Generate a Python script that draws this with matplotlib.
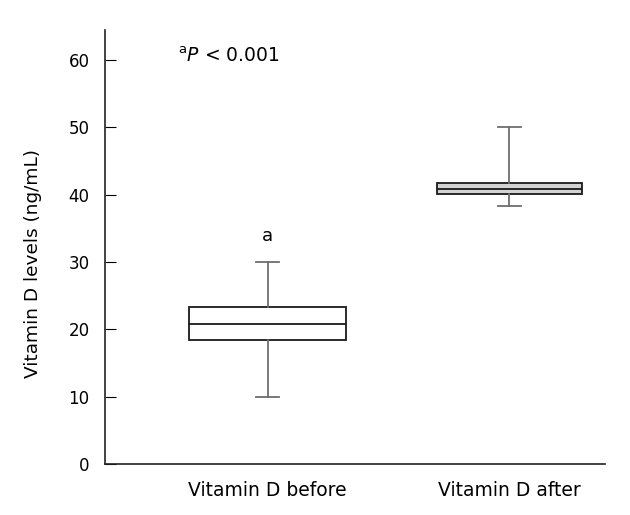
import matplotlib
matplotlib.use("Agg")
import matplotlib.pyplot as plt

# Box summary values (ng/mL)
groups = ["Vitamin D before", "Vitamin D after"]
q1 = [18.4, 40.1]
med = [20.85, 40.9]
q3 = [23.4, 41.7]
whislo = [10.0, 38.4]
whishi = [30.0, 50.1]
box_fill = ["white", "#d3d3d3"]
yticks = [0, 10, 20, 30, 40, 50, 60]

plt.rcParams['font.family'] = ['DejaVu Sans']

fig = plt.figure(figsize=(6.3, 5.15), dpi=100)
ax = fig.add_axes([0.1667, 0.099, 0.7937, 0.843])

stats = []
for i, g in enumerate(groups):
    stats.append(dict(label=g, q1=q1[i], med=med[i], q3=q3[i],
                      whislo=whislo[i], whishi=whishi[i], fliers=[]))

bp = ax.bxp(stats, positions=[1, 2], widths=[0.65, 0.6], patch_artist=True,
            showfliers=False,
            boxprops=dict(edgecolor="#1a1a1a", linewidth=1.3),
            medianprops=dict(color="#1a1a1a", linewidth=1.3),
            whiskerprops=dict(color="#6e6e6e", linewidth=1.3),
            capprops=dict(color="#6e6e6e", linewidth=1.3),
            capwidths=0.094)
for patch, c in zip(bp["boxes"], box_fill):
    patch.set_facecolor(c)

ax.set_xlim(0.327, 2.397)
ax.set_ylim(0, 64.5)
ax.set_yticks(yticks)
ax.set_xticks([1, 2])
ax.set_xticklabels(groups, fontsize=13.5)
ax.tick_params(axis="x", length=0, pad=12)
ax.tick_params(axis="y", direction="in", length=8, labelsize=12, pad=11)
ax.spines["top"].set_visible(False)
ax.spines["right"].set_visible(False)
for s in ("left", "bottom"):
    ax.spines[s].set_color("#222222")
    ax.spines[s].set_linewidth(1.2)

ax.set_ylabel("Vitamin D levels (ng/mL)", fontsize=13.3)
ax.yaxis.set_label_coords(-0.127, 0.462)

ax.text(1, 33.9, "a", ha="center", va="center", fontsize=13)
ax.text(0.629, 60.6, r"$^{\mathrm{a}}$$\mathit{P}$ < 0.001", ha="left", va="center",
        fontsize=13.5)

fig.savefig("out.png", dpi=100)
